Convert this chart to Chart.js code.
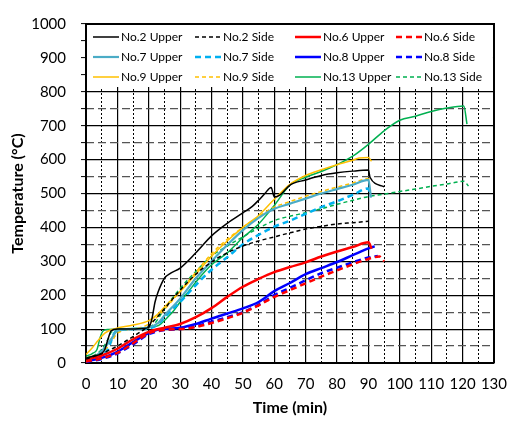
<!DOCTYPE html>
<html><head><meta charset="utf-8">
<script src="https://cdn.jsdelivr.net/npm/chart.js@4.4.1/dist/chart.umd.min.js"></script>
<style>html,body{margin:0;padding:0;background:#fff}</style>
</head><body>
<canvas id="c" width="519" height="426"></canvas>
<script>
// ---- tick labels ----
const xTickLabels = [0,10,20,30,40,50,60,70,80,90,100,110,120,130];
const yTickLabels = [0,100,200,300,400,500,600,700,800,900,1000];
const seriesNames = ['No.2 Upper','No.2 Side','No.6 Upper','No.6 Side','No.7 Upper','No.7 Side','No.8 Upper','No.8 Side','No.9 Upper','No.9 Side','No.13 Upper','No.13 Side'];

// ---- series (time in min, temperature in °C) ----
const no2UpperTime = [0,3,5,6,7,8,10,15,18,20,21,22,23,25,27,30,35,40,45,50,53,55,57,59,60,62,65,70,75,80,85,90,90.5,95];
const no2UpperTemp = [15,22,28,40,70,95,100,100,102,105,130,180,210,250,265,280,325,375,412,443,462,480,500,518,490,497,525,540,553,561,566,569,548,520];
const no2SideTime = [0,5,10,15,20,25,30,35,40,45,50,55,60,65,70,75,80,85,90];
const no2SideTemp = [12,28,50,78,110,160,215,262,298,325,345,360,372,384,395,403,410,414,418];
const no6UpperTime = [0,5,10,15,20,25,30,35,40,45,50,55,60,65,70,75,80,85,90,91];
const no6UpperTemp = [10,22,42,70,92,104,115,135,162,195,225,248,268,283,297,314,329,342,356,337];
const no6SideTime = [0,5,10,15,20,25,30,35,40,45,50,55,60,65,70,75,80,85,90,93.5,95];
const no6SideTemp = [4,14,30,58,88,98,100,106,118,132,148,170,195,215,235,255,273,291,307,314,300];
const no7UpperTime = [0,3,5,8,10,15,20,23,25,30,35,40,45,50,55,60,65,70,75,80,85,90,90.8];
const no7UpperTemp = [10,20,35,70,95,100,105,118,140,190,250,300,348,392,428,455,470,485,500,513,526,540,488];
const no7SideTime = [0,5,7,8,9,10,15,20,23,25,30,35,40,45,50,55,60,65,70,75,80,85,90,90.5];
const no7SideTemp = [8,25,40,65,88,95,100,102,115,135,180,230,275,312,350,378,402,420,440,460,477,496,515,492];
const no8UpperTime = [0,5,10,15,20,23,25,30,35,40,45,50,55,60,65,70,75,80,85,90,92];
const no8UpperTemp = [5,15,33,62,88,99,101,104,115,131,146,161,180,212,236,262,280,298,318,338,344];
const no8SideTime = [0,5,10,15,20,25,30,35,40,45,50,55,60,65,70,75,80,85,90,93];
const no8SideTemp = [3,12,28,55,85,97,100,108,122,135,150,172,200,222,244,265,281,297,311,316];
const no9UpperTime = [0,2,4,6,8,10,15,20,23,26,30,35,40,45,50,55,60,65,70,75,80,85,87,90,91];
const no9UpperTemp = [25,45,68,88,98,103,112,125,145,175,210,262,315,360,400,435,483,527,553,570,585,598,605,606,595];
const no9SideTime = [0,3,5,8,10,15,20,25,30,35,40,45,50,55,60,65,70,75,80,85,90,90.8];
const no9SideTemp = [15,22,30,60,88,100,115,158,212,268,322,365,400,432,460,476,492,506,519,531,544,536];
const no13UpperTime = [0,2,3.5,4.5,5.5,7,10,15,20,23,26,28,30,33,36,40,45,50,55,60,65,70,75,80,85,90,95,100,105,110,115,120.4,121.4];
const no13UpperTemp = [20,28,40,75,95,99,100,102,105,110,135,155,180,215,250,290,325,370,410,465,525,548,565,585,610,645,685,716,728,742,752,758,705];
const no13SideTime = [0,3,5,7,8,10,15,20,22,25,30,35,40,45,50,55,60,65,70,75,80,85,90,95,100,105,110,115,120.4,121.9];
const no13SideTemp = [15,25,40,70,90,95,100,105,118,160,220,270,315,345,372,398,420,433,443,455,468,480,491,498,506,513,521,528,536,522];

const seriesTimes = [no2UpperTime,no2SideTime,no6UpperTime,no6SideTime,no7UpperTime,no7SideTime,no8UpperTime,no8SideTime,no9UpperTime,no9SideTime,no13UpperTime,no13SideTime];
const seriesTemps = [no2UpperTemp,no2SideTemp,no6UpperTemp,no6SideTemp,no7UpperTemp,no7SideTemp,no8UpperTemp,no8SideTemp,no9UpperTemp,no9SideTemp,no13UpperTemp,no13SideTemp];

// ---- styles ----
const styles = [
  {c:'#000000', w:1.5, d:[]},
  {c:'#000000', w:1.5, d:[4,3]},
  {c:'#ff0000', w:2.5, d:[]},
  {c:'#ff0000', w:2.5, d:[6,4]},
  {c:'#4bacc6', w:2.2, d:[]},
  {c:'#00b0f0', w:2.5, d:[6,4]},
  {c:'#0000ff', w:2.5, d:[]},
  {c:'#0000ff', w:2.5, d:[6,4]},
  {c:'#ffc000', w:1.5, d:[]},
  {c:'#ffc000', w:1.5, d:[4,3]},
  {c:'#00b050', w:1.5, d:[]},
  {c:'#00b050', w:1.5, d:[4,3]}
];

const datasets = seriesNames.map((name, i) => ({
  label: name,
  data: seriesTimes[i].map((t, k) => ({x: t, y: seriesTemps[i][k]})),
  borderColor: styles[i].c,
  backgroundColor: styles[i].c,
  borderWidth: styles[i].w,
  borderDash: styles[i].d,
  pointRadius: 0,
  cubicInterpolationMode: 'monotone',
  fill: false
}));

const FONT = 'Lato, "Liberation Sans", sans-serif';
const CLEAR = 'rgba(0,0,0,0)';
const isMult = (v, m) => Math.abs(v / m - Math.round(v / m)) < 1e-6;

const gridLegend = {
  id: 'gridLegend',
  afterDatasetsDraw(chart) {
    const {ctx, chartArea: a} = chart;
    ctx.save();
    ctx.fillStyle = '#ffffff';
    ctx.fillRect(a.left + 1, a.top + 1, a.right - a.left - 2, 62);
    const colX = [7, 109, 209, 310];
    const rowY = [13, 33, 53];
    ctx.font = '12px ' + FONT;
    ctx.textBaseline = 'middle';
    ctx.textAlign = 'left';
    chart.data.datasets.forEach((ds, i) => {
      const x = a.left + colX[i % 4];
      const y = a.top + rowY[Math.floor(i / 4)];
      ctx.save();
      ctx.strokeStyle = ds.borderColor;
      ctx.lineWidth = ds.borderWidth;
      ctx.setLineDash(ds.borderDash);
      ctx.beginPath();
      ctx.moveTo(x, y);
      ctx.lineTo(x + 26, y);
      ctx.stroke();
      ctx.restore();
      ctx.fillStyle = '#000';
      ctx.fillText(ds.label, x + 28, y + 0.5);
    });
    ctx.restore();
  }
};

new Chart(document.getElementById('c'), {
  type: 'line',
  data: {datasets},
  plugins: [gridLegend],
  options: {
    responsive: false,
    animation: false,
    devicePixelRatio: 1,
    layout: {padding: {top: 14, right: 22, left: 0, bottom: 0}},
    plugins: {legend: {display: false}, tooltip: {enabled: false}},
    scales: {
      x: {
        type: 'linear', position: 'bottom', min: 0, max: 130,
        afterFit: (s) => { s.height = 63; },
        ticks: {stepSize: 10, autoSkip: false, maxRotation: 0, color: '#000', padding: 12,
                font: {family: FONT, size: 15},
                callback: (v) => xTickLabels.includes(v) ? String(v) : ''},
        grid: {color: '#000', lineWidth: 1.2, drawTicks: false},
        border: {display: true, color: '#000', width: 2},
        title: {display: true, text: 'Time (min)', color: '#000', padding: {top: 0, bottom: 9}, font: {family: FONT, size: 16, weight: 'bold'}}
      },
      x2: {
        type: 'linear', position: 'top', min: 0, max: 130,
        ticks: {display: false, stepSize: 5},
        grid: {color: (c) => (c.tick && !isMult(c.tick.value, 10)) ? '#000' : CLEAR, lineWidth: 1, drawTicks: false},
        border: {display: true, color: '#000', width: 2, dash: [2, 2]}
      },
      y: {
        type: 'linear', position: 'left', min: 0, max: 1000,
        afterFit: (s) => { s.width = 86; },
        ticks: {stepSize: 50, autoSkip: false, color: '#000', padding: 15, font: {family: FONT, size: 15},
                callback: (v) => yTickLabels.includes(v) ? String(v) : ''},
        grid: {color: (c) => (c.tick && isMult(c.tick.value, 100)) ? '#000' : CLEAR,
               lineWidth: 1.2, drawTicks: true, tickLength: 5, tickColor: '#000', tickWidth: 1},
        border: {display: true, color: '#000', width: 2},
        title: {display: true, text: 'Temperature (°C)', color: '#000', padding: {top: 8, bottom: 0}, font: {family: FONT, size: 16, weight: 'bold'}}
      },
      y2: {
        type: 'linear', position: 'right', min: 0, max: 1000,
        ticks: {display: false, stepSize: 50},
        grid: {color: (c) => (c.tick && !isMult(c.tick.value, 100)) ? '#555' : CLEAR, lineWidth: 1.3, drawTicks: false},
        border: {display: true, color: '#000', width: 2, dash: [8, 4]}
      }
    }
  }
});
</script>
</body></html>
